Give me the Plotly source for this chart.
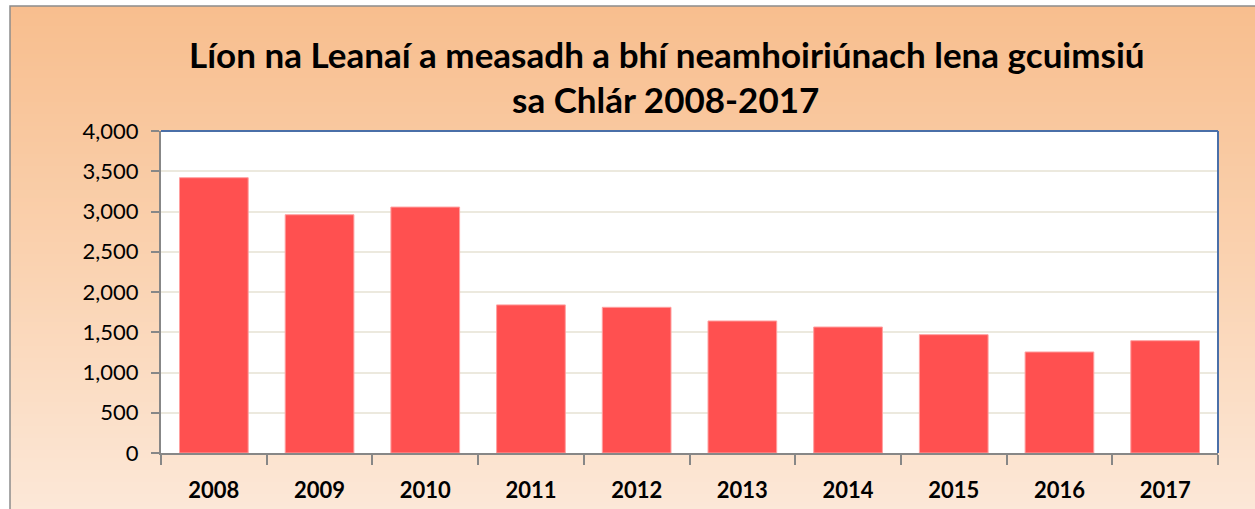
import plotly.graph_objects as go

years = ["2008", "2009", "2010", "2011", "2012", "2013", "2014", "2015", "2016", "2017"]
values = [3420, 2960, 3055, 1840, 1810, 1640, 1565, 1470, 1255, 1395]
y_ticks = [0, 500, 1000, 1500, 2000, 2500, 3000, 3500, 4000]
y_tick_labels = ["0", "500", "1,000", "1,500", "2,000", "2,500", "3,000", "3,500", "4,000"]
title_line1 = "Líon na Leanaí a measadh a bhí neamhoiriúnach lena gcuimsiú"
title_line2 = "sa Chlár 2008-2017"

W, H = 1255, 509
ML, MR, MT, MB = 161, 37, 131, 56
PW, PH = W - ML - MR, H - MT - MB

def px_to_paper_x(px):
    return (px - ML) / PW

def px_to_paper_y(py):
    return (H - MB - py) / PH

def lerp(c1, c2, t):
    return tuple(round(a + (b - a) * t) for a, b in zip(c1, c2))

top_c = (248, 190, 142)
mid_c = (250, 210, 176)
bot_c = (252, 232, 216)

shapes = []
# gradient background bands
step = 4
y0 = 6
while y0 < H + 4:
    y1 = y0 + step
    t = (y0 - 6) / (H - 6)
    if t < 0.5:
        c = lerp(top_c, mid_c, t / 0.5)
    else:
        c = lerp(mid_c, bot_c, (t - 0.5) / 0.5)
    shapes.append(dict(type="rect", xref="paper", yref="paper",
                       x0=px_to_paper_x(10), x1=px_to_paper_x(W + 5),
                       y0=px_to_paper_y(y0), y1=px_to_paper_y(y1 + 0.5),
                       fillcolor="rgb(%d,%d,%d)" % c, line=dict(width=0), layer="below"))
    y0 = y1
# outer border
shapes.append(dict(type="rect", xref="paper", yref="paper",
                   x0=px_to_paper_x(10), x1=px_to_paper_x(W + 5),
                   y0=px_to_paper_y(6), y1=px_to_paper_y(H + 5),
                   fillcolor="rgba(0,0,0,0)", line=dict(width=1.5, color="#8C8C8C"), layer="below"))
# white plot area
shapes.append(dict(type="rect", xref="paper", yref="paper", x0=0, x1=1, y0=0, y1=1,
                   fillcolor="white", line=dict(width=0), layer="below"))
# blue top/right border
shapes.append(dict(type="line", xref="paper", yref="paper", x0=0, x1=1, y0=1, y1=1,
                   line=dict(color="#4A6FA8", width=2), layer="above"))
shapes.append(dict(type="line", xref="paper", yref="paper", x0=1, x1=1, y0=0, y1=1,
                   line=dict(color="#4A6FA8", width=2), layer="above"))

fig = go.Figure(go.Bar(
    x=years, y=values,
    marker=dict(color="#FF5050", line=dict(color="#FFA0A0", width=1)),
))

fig.update_layout(
    width=W, height=H,
    margin=dict(l=ML, r=MR, t=MT, b=MB, pad=0, autoexpand=False),
    paper_bgcolor="white",
    plot_bgcolor="rgba(0,0,0,0)",
    bargap=0.35,
    showlegend=False,
    shapes=shapes,
    font=dict(family="Lato", color="black"),
    annotations=[
        dict(text="<b>" + title_line1 + "</b>", xref="paper", yref="paper",
             x=px_to_paper_x(667), y=px_to_paper_y(54), xanchor="center", yanchor="middle",
             showarrow=False, font=dict(size=35, family="Lato", color="black")),
        dict(text="<b>" + title_line2 + "</b>", xref="paper", yref="paper",
             x=px_to_paper_x(665), y=px_to_paper_y(99), xanchor="center", yanchor="middle",
             showarrow=False, font=dict(size=35, family="Lato", color="black")),
    ],
)

fig.update_yaxes(
    range=[0, 4000], tickvals=y_ticks, ticktext=y_tick_labels,
    showgrid=True, gridcolor="#ECE9DE", gridwidth=2,
    showline=True, linecolor="#878787", linewidth=2,
    ticks="outside", ticklen=8, tickcolor="#878787", tickwidth=2,
    tickfont=dict(size=22, family="Lato", color="black"),
    ticklabelstandoff=8, zeroline=False, automargin=False,
)
fig.update_xaxes(
    type="category",
    showline=True, linecolor="#878787", linewidth=2,
    ticks="outside", ticklen=10, tickcolor="#878787", tickwidth=2,
    tickson="boundaries",
    tickfont=dict(size=22, family="Lato", color="black"),
    tickprefix="<b>", ticksuffix="</b>",
    ticklabelstandoff=17, automargin=False,
)

fig.write_html("out.html", config={"displayModeBar": False},
               post_script="document.body.style.margin='0px';")
